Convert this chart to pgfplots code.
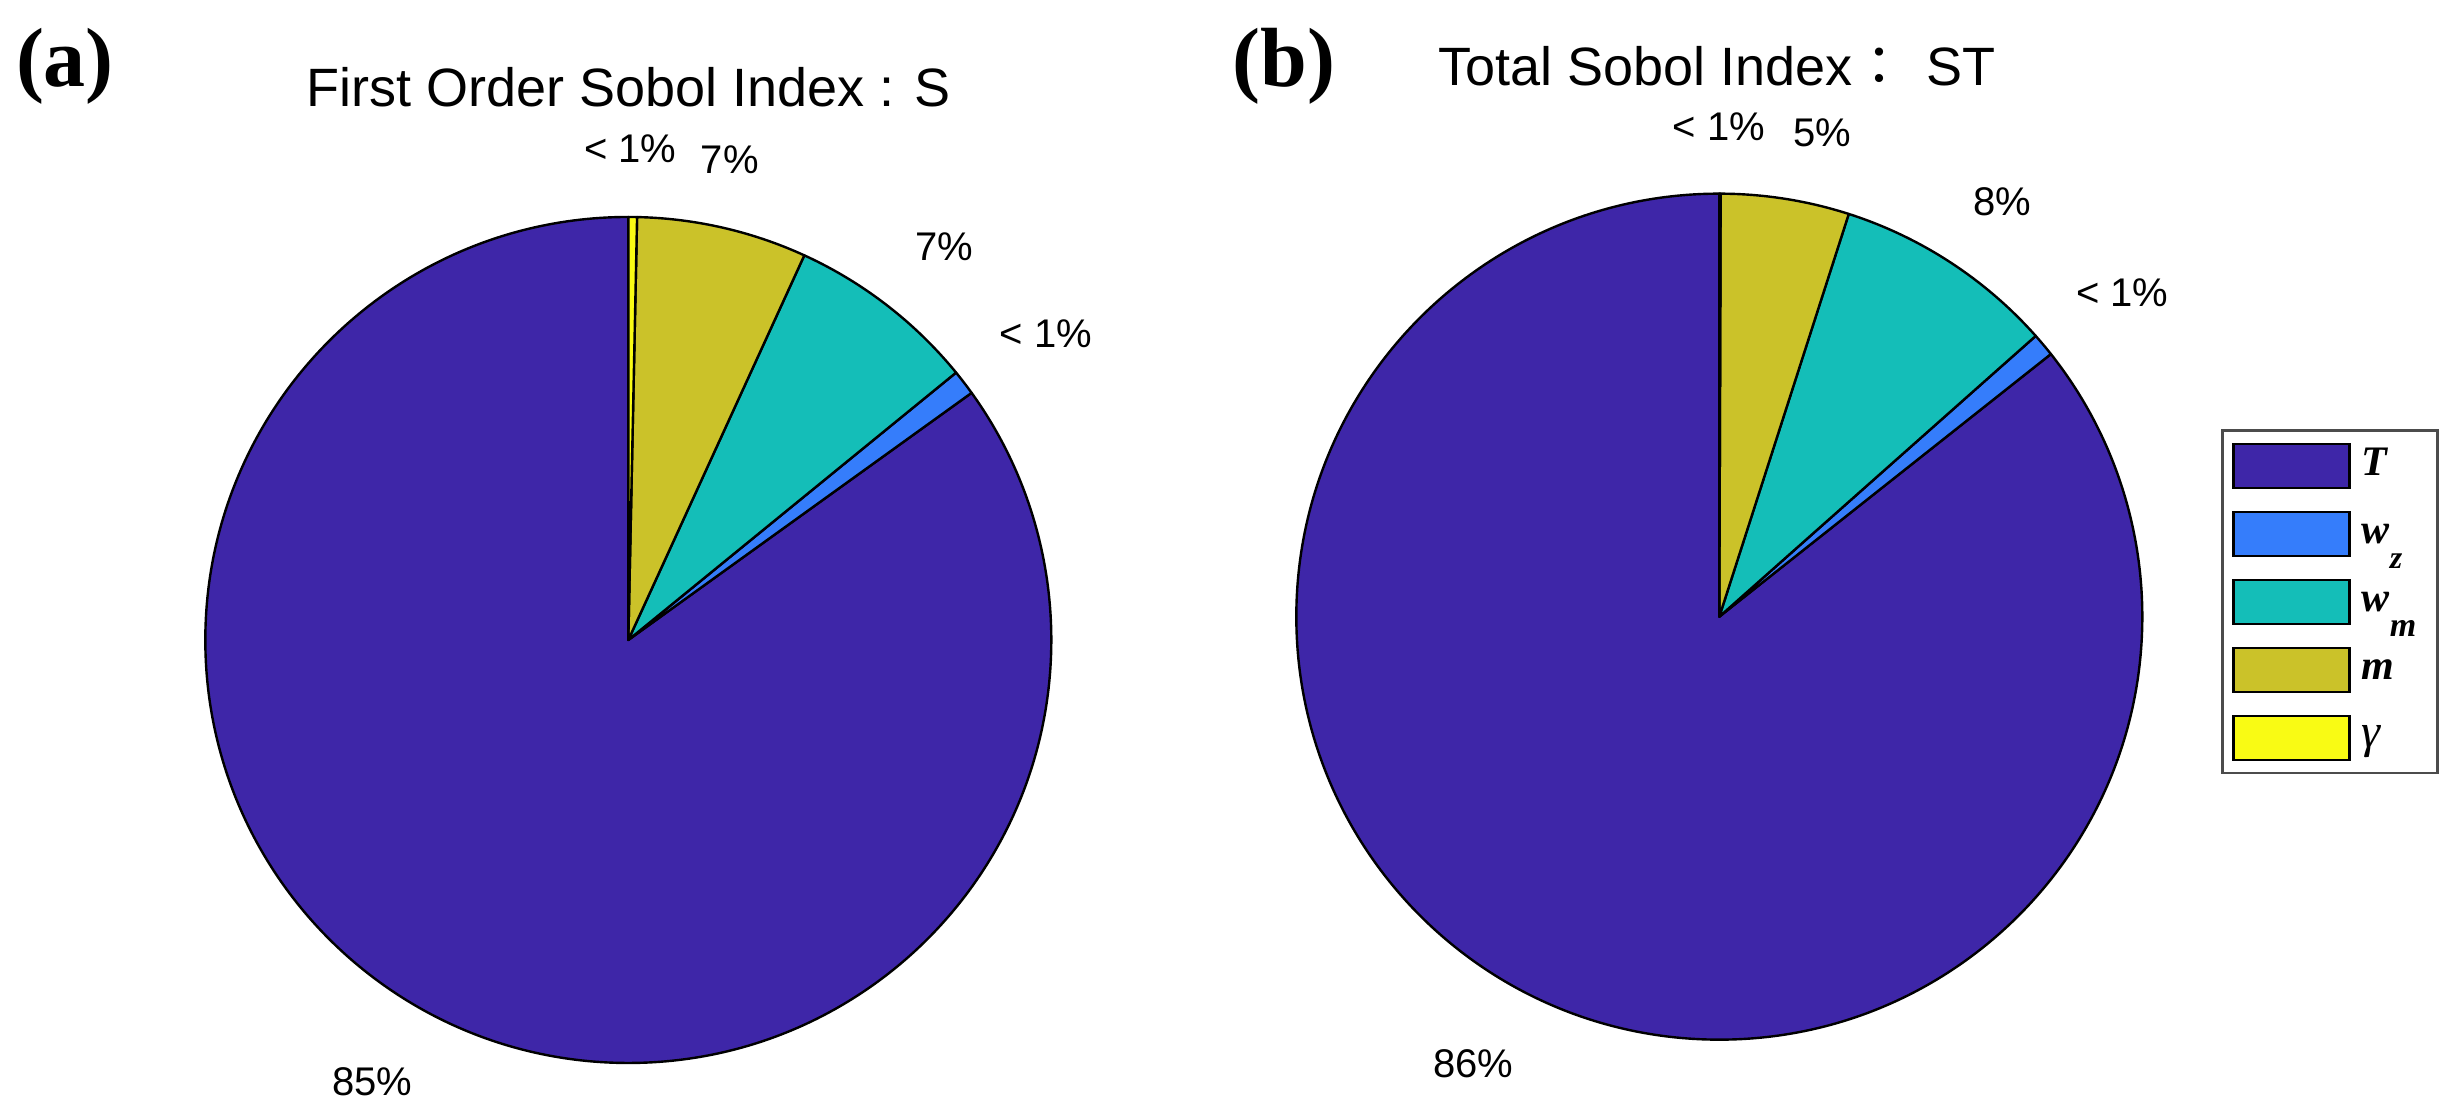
\documentclass[border=0pt]{standalone}
\usepackage{pgfplots}
\pgfplotsset{compat=1.18}
\usepackage{pgfplotstable}
\usepackage{fontspec}
\setmainfont{Liberation Sans}
\newfontfamily\tnr{Liberation Serif}
\newfontfamily\cjk{Noto Sans CJK TC}

% parula-like slice colours
\definecolor{cT}{RGB}{62,38,168}
\definecolor{cWz}{RGB}{53,125,251}
\definecolor{cWm}{RGB}{20,190,184}
\definecolor{cM}{RGB}{203,194,41}
\definecolor{cG}{RGB}{249,251,20}

% slice shares (percent), counter-clockwise from 12 o'clock as MATLAB pie
\pgfplotstableread{
name value colour
T  84.93 cT
wz  0.96 cWz
wm  7.28 cWm
m   6.50 cM
g   0.33 cG
}\sobolS
\pgfplotstableread{
name value colour
T  85.66 cT
wz  0.89 cWz
wm  8.50 cWm
m   4.90 cM
g   0.05 cG
}\sobolST

\newlength\R \setlength\R{105.75pt}

\newcommand\pieslices[1]{%
  \pgfplotstablegetrowsof{#1}%
  \pgfmathtruncatemacro\nrows{\pgfplotsretval-1}%
  \def\cum{0}%
  \pgfplotsforeachungrouped \i in {0,...,\nrows}{%
    \pgfplotstablegetelem{\i}{value}\of{#1}\let\val\pgfplotsretval
    \pgfplotstablegetelem{\i}{colour}\of{#1}\let\col\pgfplotsretval
    \pgfmathsetmacro\angA{90+3.6*\cum}%
    \pgfmathsetmacro\angB{90+3.6*(\cum+\val)}%
    \edef\doslice{\noexpand\filldraw[fill=\col, draw=black, line width=0.6pt, line join=round]
      (axis cs:0,0) -- ++(\angA:\the\R) arc[start angle=\angA, end angle=\angB, radius=\the\R] -- cycle;}%
    \doslice
    \pgfmathsetmacro\cum{\cum+\val}%
  }%
}

\pgfplotsset{
  pie axis/.style={hide axis, scale only axis, width=211.5pt, height=211.5pt,
    xmin=-1, xmax=1, ymin=-1, ymax=1, anchor=center, clip=false},
}
\tikzset{lbl/.style={font=\fontsize{10}{11}\selectfont, inner sep=0pt}}

\begin{document}
\begin{tikzpicture}
\useasboundingbox (0,0) rectangle (614pt,280pt);

\begin{axis}[pie axis, at={(157.08pt,120pt)}]
  \pieslices{\sobolS}
  \node[lbl] at (axis cs:0.005,1.162) {< 1\%};
  \node[lbl] at (axis cs:0.240,1.135) {7\%};
  \node[lbl] at (axis cs:0.747,0.930) {7\%};
  \node[lbl] at (axis cs:0.987,0.725) {< 1\%};
  \node[lbl] at (axis cs:-0.605,-1.045) {85\%};
\end{axis}

\begin{axis}[pie axis, at={(429.83pt,125.83pt)},
    legend image code/.code={\draw[#1] (0pt,-5.5pt) rectangle (29pt,5.5pt);},
    legend cell align=left,
    legend style={at={(1.0928,0.7216)}, anchor=north west, draw=black!70,
      line width=0.7pt, inner xsep=2.5pt, inner ysep=3pt, row sep=5.4pt,
      font=\tnr\fontsize{10.5}{12}\selectfont,
      nodes={inner xsep=2.8pt, inner ysep=0pt, text height=8pt, text depth=3pt}}]
  \pieslices{\sobolST}
  \node[lbl] at (axis cs:-0.001,1.158) {< 1\%};
  \node[lbl] at (axis cs:0.243,1.143) {5\%};
  \node[lbl] at (axis cs:0.669,0.981) {8\%};
  \node[lbl] at (axis cs:0.953,0.765) {< 1\%};
  \node[lbl] at (axis cs:-0.582,-1.056) {86\%};
  \addlegendimage{fill=cT, draw=black, line width=0.6pt}
  \addlegendentry{\bfseries\itshape T}
  \addlegendimage{fill=cWz, draw=black, line width=0.6pt}
  \addlegendentry{\bfseries\itshape w\raisebox{-0.6em}[0pt][0pt]{\fontsize{8}{9}\selectfont z}}
  \addlegendimage{fill=cWm, draw=black, line width=0.6pt}
  \addlegendentry{\bfseries\itshape w\raisebox{-0.6em}[0pt][0pt]{\fontsize{8.5}{9}\selectfont m}}
  \addlegendimage{fill=cM, draw=black, line width=0.6pt}
  \addlegendentry{\bfseries\itshape m}
  \addlegendimage{fill=cG, draw=black, line width=0.6pt}
  \addlegendentry{\fontsize{12}{12}\selectfont\itshape γ}
\end{axis}

\node[anchor=base, font=\fontsize{13.5}{16}\selectfont] at (157.2pt,253.3pt)
  {First Order Sobol Index : S};
\node[anchor=base, font=\fontsize{13.5}{16}\selectfont] at (429.2pt,258.5pt)
  {Total Sobol Index{\cjk ：}\hspace{5pt}ST};
\node[anchor=base, font=\tnr\bfseries\fontsize{21}{24}\selectfont] at (16.25pt,258.25pt) {(a)};
\node[anchor=base, font=\tnr\bfseries\fontsize{21}{24}\selectfont] at (321pt,258.25pt) {(b)};
\end{tikzpicture}
\end{document}
